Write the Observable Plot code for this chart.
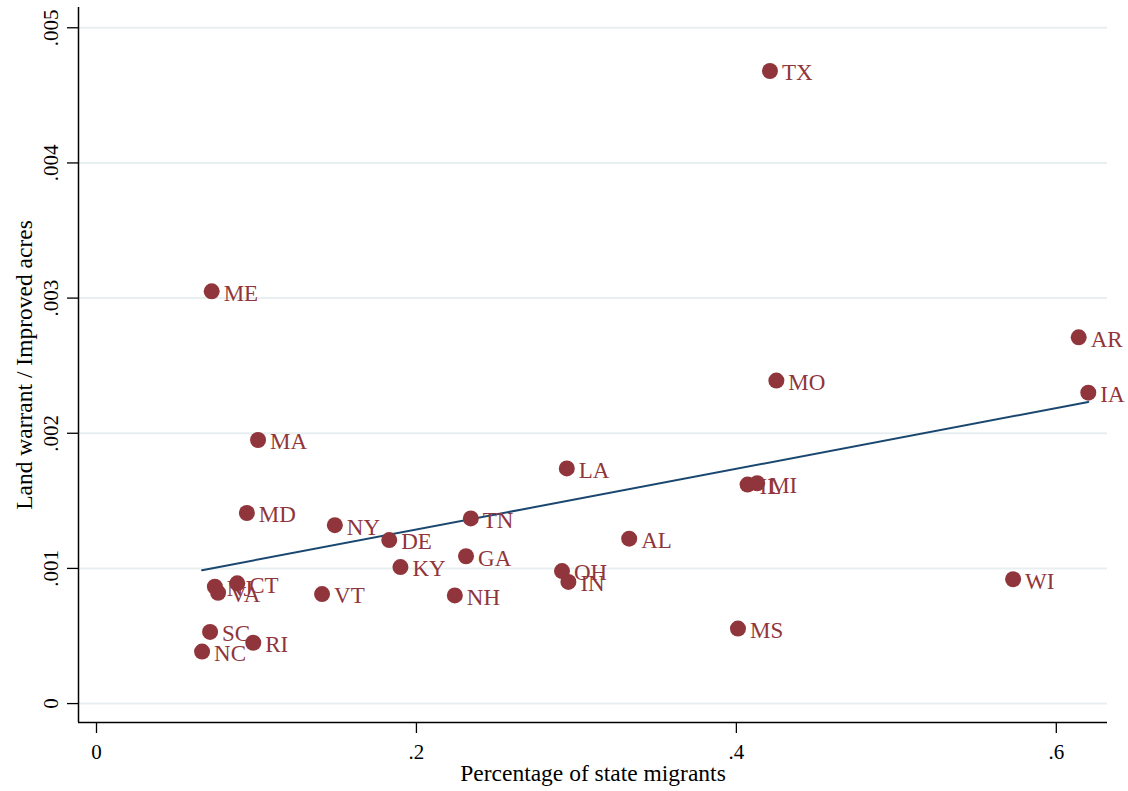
<!DOCTYPE html>
<html>
<head>
<meta charset="utf-8">
<script src="https://cdn.jsdelivr.net/npm/d3@7"></script>
<script src="https://cdn.jsdelivr.net/npm/@observablehq/plot@0.6"></script>
<style>
  html, body { margin: 0; padding: 0; background: #ffffff; }
  #chart svg { display: block; }
</style>
</head>
<body>
<div id="chart"></div>
<script>
// State codes, share of state migrants, and land warrants per improved acre
const states = ["TX","ME","AR","MO","IA","MA","LA","IL","MI","MD","NY","TN","DE","AL",
                "GA","KY","OH","IN","WI","VT","NH","NJ","CT","VA","MS","SC","RI","NC"];
const migrantShare = [0.421,0.072,0.614,0.425,0.620,0.101,0.294,0.407,0.413,0.094,0.149,0.234,0.183,0.333,
                      0.231,0.190,0.291,0.295,0.573,0.141,0.224,0.074,0.088,0.076,0.401,0.071,0.098,0.066];
const warrantPerAcre = [0.00468,0.00305,0.00271,0.00239,0.00230,0.00195,0.00174,0.00162,0.00163,0.00141,0.00132,0.00137,0.00121,0.00122,
                        0.00109,0.00101,0.00098,0.00090,0.00092,0.00081,0.00080,0.000865,0.00089,0.00082,0.000555,0.00053,0.00045,0.000385];

const xTicks = [0, 0.2, 0.4, 0.6];
const yTicks = [0, 0.001, 0.002, 0.003, 0.004, 0.005];

const xTitle = "Percentage of state migrants";
const yTitle = "Land warrant / Improved acres";

const data = states.map((s, i) => ({state: s, x: migrantShare[i], y: warrantPerAcre[i]}));

const navy = "#1a476f";
const maroon = "#90353b";
const grid = "#e8eff0";
const font = "'Liberation Serif', 'Times New Roman', serif";

// Stata-style labels: drop the leading zero
const fmt = d => d === 0 ? "0" : String(+d.toFixed(3)).replace(/^0/, "");

const xDomain = [-0.01125, 0.632];
const yDomain = [-0.00014, 0.00515];

const chart = Plot.plot({
  width: 1128,
  height: 791,
  marginLeft: 78,
  marginRight: 21,
  marginTop: 7,
  marginBottom: 69,
  style: {fontFamily: font, fontSize: "21px", color: "#000", background: "#fff"},
  x: {domain: xDomain},
  y: {domain: yDomain},
  marks: [
    Plot.gridY(yTicks, {stroke: grid, strokeOpacity: 1, strokeWidth: 2}),
    Plot.axisX(xTicks, {tickSize: 11, tickPadding: 11, tickFormat: fmt, label: null, stroke: "#000", strokeWidth: 1.3, fontSize: 21}),
    Plot.axisY(yTicks, {tickSize: 11, tickPadding: 10, tickRotate: -90, tickFormat: fmt, label: null, stroke: "#000", strokeWidth: 1.3, fontSize: 21}),
    Plot.ruleX([xDomain[0]], {stroke: "#000", strokeWidth: 1.5}),
    Plot.ruleY([yDomain[0]], {stroke: "#000", strokeWidth: 1.5}),
    Plot.text([xTitle], {frameAnchor: "bottom", textAnchor: "middle", dy: 58, text: d => d, fontSize: 23.5, fill: "#000"}),
    Plot.text([yTitle], {frameAnchor: "left", textAnchor: "middle", dx: -54, rotate: -90, text: d => d, fontSize: 23.5, fill: "#000"}),
    Plot.linearRegressionY(data, {x: "x", y: "y", ci: 0, stroke: navy, strokeWidth: 2}),
    Plot.dot(data, {x: "x", y: "y", r: 8, fill: maroon, stroke: "none"}),
    Plot.text(data, {x: "x", y: "y", text: "state", textAnchor: "start", dx: 12, dy: 2, fill: maroon, fontSize: 23})
  ]
});

document.getElementById("chart").appendChild(chart);
</script>
</body>
</html>
